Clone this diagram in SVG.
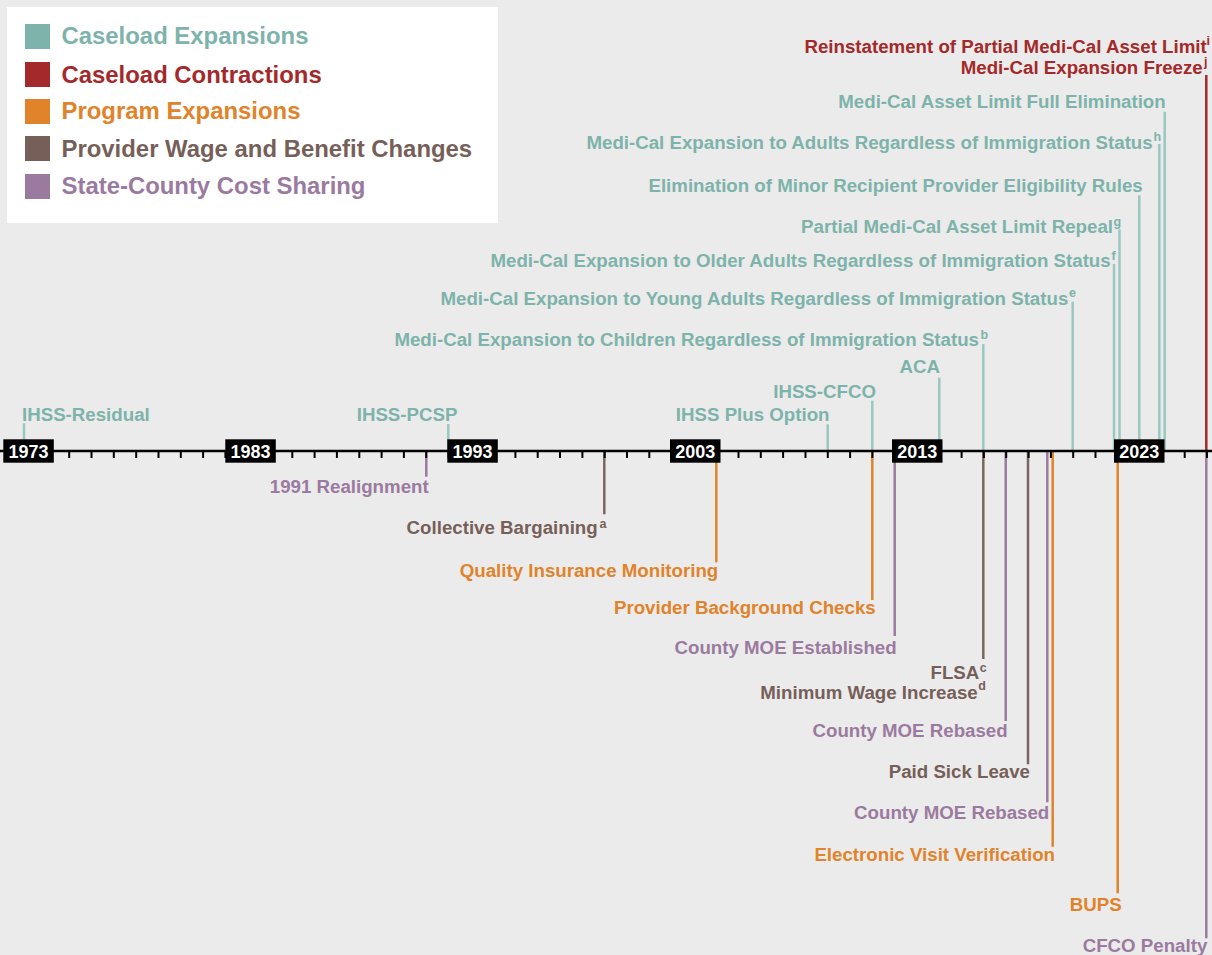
<svg xmlns="http://www.w3.org/2000/svg" width="1212" height="955" viewBox="0 0 1212 955">
<style>
text{font-family:"Liberation Sans",Arial,Helvetica,sans-serif;font-weight:bold}
.lbl{font-size:18.7px}
.sup{font-size:12.5px}
.leg{font-size:23.9px}
.yr{font-size:18px;fill:#fff;text-anchor:middle}
.e{text-anchor:end}
.teal{fill:#7db3aa}.red{fill:#a3292a}.org{fill:#e0832a}.brn{fill:#765f59}.pur{fill:#9b7a9f}
.c line{stroke-width:2.5;fill:none}
.lt{stroke:#9bc7c0}.lr{stroke:#a3292a}.lo{stroke:#e0832a}.lb{stroke:#7a6660}.lp{stroke:#9b7a9f}
.tick{stroke:#000;stroke-width:2}
</style>
<rect x="0" y="0" width="1212" height="955" fill="#ebebeb"/>

<g id="legend">
<rect x="7" y="7" width="491" height="216" fill="#fff"/>
<rect x="25" y="24" width="25" height="25" fill="#7db3aa"/>
<text class="leg teal" x="61.5" y="44.3">Caseload Expansions</text>
<rect x="25" y="62" width="25" height="25" fill="#a3292a"/>
<text class="leg red" x="61.5" y="83.3">Caseload Contractions</text>
<rect x="25" y="99" width="25" height="25" fill="#e0832a"/>
<text class="leg org" x="61.5" y="119">Program Expansions</text>
<rect x="25" y="136" width="25" height="25" fill="#765f59"/>
<text class="leg brn" x="61.5" y="156.7">Provider Wage and Benefit Changes</text>
<rect x="25" y="174" width="25" height="25" fill="#9b7a9f"/>
<text class="leg pur" x="61.5" y="194.3">State-County Cost Sharing</text>
</g>

<g id="connectors" class="c">
<line class="lt" x1="24" y1="423.3" x2="24" y2="451"/>
<line class="lt" x1="448.3" y1="424" x2="448.3" y2="451"/>
<line class="lt" x1="827.7" y1="424.3" x2="827.7" y2="451"/>
<line class="lt" x1="872.3" y1="400.7" x2="872.3" y2="451"/>
<line class="lt" x1="939.3" y1="377.7" x2="939.3" y2="451"/>
<line class="lt" x1="983.3" y1="344" x2="983.3" y2="451"/>
<line class="lt" x1="1072.7" y1="301.7" x2="1072.7" y2="451"/>
<line class="lt" x1="1114" y1="264" x2="1114" y2="451"/>
<line class="lt" x1="1119.5" y1="229.3" x2="1119.5" y2="451"/>
<line class="lt" x1="1139.3" y1="195.3" x2="1139.3" y2="451"/>
<line class="lt" x1="1159.3" y1="144" x2="1159.3" y2="451"/>
<line class="lt" x1="1164.7" y1="111.7" x2="1164.7" y2="451"/>
<line class="lr" x1="1206.3" y1="75" x2="1206.3" y2="451"/>
<line class="lp" x1="426.3" y1="451" x2="426.3" y2="476.7"/>
<line class="lb" x1="604.3" y1="451" x2="604.3" y2="514.3"/>
<line class="lo" x1="716.3" y1="451" x2="716.3" y2="562.3"/>
<line class="lo" x1="872.3" y1="451" x2="872.3" y2="600"/>
<line class="lp" x1="894.7" y1="451" x2="894.7" y2="636"/>
<line class="lb" x1="983.3" y1="451" x2="983.3" y2="659"/>
<line class="lp" x1="1005.7" y1="451" x2="1005.7" y2="721"/>
<line class="lb" x1="1028" y1="451" x2="1028" y2="764.3"/>
<line class="lp" x1="1047.3" y1="451" x2="1047.3" y2="802.3"/>
<line class="lo" x1="1052.7" y1="451" x2="1052.7" y2="846.7"/>
<line class="lo" x1="1117.7" y1="451" x2="1117.7" y2="893.3"/>
<line class="lp" x1="1206.3" y1="451" x2="1206.3" y2="938.3"/>
</g>

<g id="axis">
<line x1="0" y1="451" x2="1212" y2="451" stroke="#000" stroke-width="2.5"/>
<g class="tick">
<line x1="24.6" y1="451" x2="24.6" y2="458"/><line x1="46.9" y1="451" x2="46.9" y2="458"/><line x1="69.2" y1="451" x2="69.2" y2="458"/><line x1="91.5" y1="451" x2="91.5" y2="458"/><line x1="113.8" y1="451" x2="113.8" y2="458"/><line x1="136.2" y1="451" x2="136.2" y2="458"/><line x1="158.5" y1="451" x2="158.5" y2="458"/><line x1="180.8" y1="451" x2="180.8" y2="458"/><line x1="203.1" y1="451" x2="203.1" y2="458"/><line x1="225.4" y1="451" x2="225.4" y2="458"/>
<line x1="247.7" y1="451" x2="247.7" y2="458"/><line x1="270" y1="451" x2="270" y2="458"/><line x1="292.3" y1="451" x2="292.3" y2="458"/><line x1="314.6" y1="451" x2="314.6" y2="458"/><line x1="336.9" y1="451" x2="336.9" y2="458"/><line x1="359.3" y1="451" x2="359.3" y2="458"/><line x1="381.6" y1="451" x2="381.6" y2="458"/><line x1="403.9" y1="451" x2="403.9" y2="458"/><line x1="426.2" y1="451" x2="426.2" y2="458"/><line x1="448.5" y1="451" x2="448.5" y2="458"/>
<line x1="470.8" y1="451" x2="470.8" y2="458"/><line x1="493.1" y1="451" x2="493.1" y2="458"/><line x1="515.4" y1="451" x2="515.4" y2="458"/><line x1="537.7" y1="451" x2="537.7" y2="458"/><line x1="560" y1="451" x2="560" y2="458"/><line x1="582.4" y1="451" x2="582.4" y2="458"/><line x1="604.7" y1="451" x2="604.7" y2="458"/><line x1="627" y1="451" x2="627" y2="458"/><line x1="649.3" y1="451" x2="649.3" y2="458"/><line x1="671.6" y1="451" x2="671.6" y2="458"/>
<line x1="693.9" y1="451" x2="693.9" y2="458"/><line x1="716.2" y1="451" x2="716.2" y2="458"/><line x1="738.5" y1="451" x2="738.5" y2="458"/><line x1="760.8" y1="451" x2="760.8" y2="458"/><line x1="783.1" y1="451" x2="783.1" y2="458"/><line x1="805.5" y1="451" x2="805.5" y2="458"/><line x1="827.8" y1="451" x2="827.8" y2="458"/><line x1="850.1" y1="451" x2="850.1" y2="458"/><line x1="872.4" y1="451" x2="872.4" y2="458"/><line x1="894.7" y1="451" x2="894.7" y2="458"/>
<line x1="917" y1="451" x2="917" y2="458"/><line x1="939.3" y1="451" x2="939.3" y2="458"/><line x1="961.6" y1="451" x2="961.6" y2="458"/><line x1="983.9" y1="451" x2="983.9" y2="458"/><line x1="1006.2" y1="451" x2="1006.2" y2="458"/><line x1="1028.6" y1="451" x2="1028.6" y2="458"/><line x1="1050.9" y1="451" x2="1050.9" y2="458"/><line x1="1073.2" y1="451" x2="1073.2" y2="458"/><line x1="1095.5" y1="451" x2="1095.5" y2="458"/><line x1="1117.8" y1="451" x2="1117.8" y2="458"/>
<line x1="1140.1" y1="451" x2="1140.1" y2="458"/><line x1="1162.4" y1="451" x2="1162.4" y2="458"/><line x1="1184.7" y1="451" x2="1184.7" y2="458"/><line x1="1207" y1="451" x2="1207" y2="458"/>
</g>
</g>

<g id="year-1973"><rect x="3.3" y="439.3" width="50.5" height="23.4" fill="#000"/><text class="yr" x="28.5" y="457.5">1973</text></g>
<g id="year-1983"><rect x="225.3" y="439.3" width="50.5" height="23.4" fill="#000"/><text class="yr" x="250.5" y="457.5">1983</text></g>
<g id="year-1993"><rect x="447.3" y="439.3" width="50.5" height="23.4" fill="#000"/><text class="yr" x="472.5" y="457.5">1993</text></g>
<g id="year-2003"><rect x="670" y="439.3" width="50.5" height="23.4" fill="#000"/><text class="yr" x="695.3" y="457.5">2003</text></g>
<g id="year-2013"><rect x="892" y="439.3" width="50.5" height="23.4" fill="#000"/><text class="yr" x="917.3" y="457.5">2013</text></g>
<g id="year-2023"><rect x="1114" y="439.3" width="50.5" height="23.4" fill="#000"/><text class="yr" x="1139.3" y="457.5">2023</text></g>

<g id="ihss-residual"><text class="lbl teal" x="22" y="421">IHSS-Residual</text></g>
<g id="ihss-pcsp"><text class="lbl teal" x="356.7" y="420.7">IHSS-PCSP</text></g>
<g id="ihss-plus"><text class="lbl teal e" x="829.5" y="420.7">IHSS Plus Option</text></g>
<g id="ihss-cfco"><text class="lbl teal e" x="876" y="398.3">IHSS-CFCO</text></g>
<g id="aca"><text class="lbl teal e" x="940" y="373.3">ACA</text></g>
<g id="medi-cal-children"><text class="lbl teal e" x="979" y="345.7">Medi-Cal Expansion to Children Regardless of Immigration Status</text><text class="sup teal" x="980.5" y="339">b</text></g>
<g id="medi-cal-young"><text class="lbl teal e" x="1068.3" y="305">Medi-Cal Expansion to Young Adults Regardless of Immigration Status</text><text class="sup teal" x="1069" y="297">e</text></g>
<g id="medi-cal-older"><text class="lbl teal e" x="1110.7" y="267.3">Medi-Cal Expansion to Older Adults Regardless of Immigration Status</text><text class="sup teal" x="1111.5" y="260">f</text></g>
<g id="partial-repeal"><text class="lbl teal e" x="1113" y="232.7">Partial Medi-Cal Asset Limit Repeal</text><text class="sup teal" x="1113.5" y="226">g</text></g>
<g id="minor-recipient"><text class="lbl teal e" x="1142.7" y="191.7">Elimination of Minor Recipient Provider Eligibility Rules</text></g>
<g id="medi-cal-adults"><text class="lbl teal e" x="1152.7" y="149.3">Medi-Cal Expansion to Adults Regardless of Immigration Status</text><text class="sup teal" x="1153.5" y="141">h</text></g>
<g id="full-elimination"><text class="lbl teal e" x="1165.7" y="108.3">Medi-Cal Asset Limit Full Elimination</text></g>
<g id="reinstatement"><text class="lbl red e" x="1206.7" y="53">Reinstatement of Partial Medi-Cal Asset Limit</text><text class="sup red" x="1206.5" y="44.5">i</text></g>
<g id="expansion-freeze"><text class="lbl red e" x="1202.7" y="74">Medi-Cal Expansion Freeze</text><text class="sup red" x="1204" y="66">j</text></g>

<g id="realignment"><text class="lbl pur e" x="428.7" y="492.7">1991 Realignment</text></g>
<g id="collective-bargaining"><text class="lbl brn e" x="597.7" y="534">Collective Bargaining</text><text class="sup brn" x="599.5" y="528">a</text></g>
<g id="quality-monitoring"><text class="lbl org e" x="718.3" y="577.3">Quality Insurance Monitoring</text></g>
<g id="background-checks"><text class="lbl org e" x="875.7" y="614">Provider Background Checks</text></g>
<g id="moe-established"><text class="lbl pur e" x="896.7" y="654">County MOE Established</text></g>
<g id="flsa"><text class="lbl brn e" x="979.3" y="679.3">FLSA</text><text class="sup brn" x="979.8" y="671.7">c</text></g>
<g id="minimum-wage"><text class="lbl brn e" x="977.7" y="699">Minimum Wage Increase</text><text class="sup brn" x="978.3" y="690">d</text></g>
<g id="moe-rebased-1"><text class="lbl pur e" x="1007.7" y="737.3">County MOE Rebased</text></g>
<g id="paid-sick-leave"><text class="lbl brn e" x="1030" y="777.7">Paid Sick Leave</text></g>
<g id="moe-rebased-2"><text class="lbl pur e" x="1049.3" y="819.3">County MOE Rebased</text></g>
<g id="evv"><text class="lbl org e" x="1055" y="861">Electronic Visit Verification</text></g>
<g id="bups"><text class="lbl org e" x="1121.7" y="910.7">BUPS</text></g>
<g id="cfco-penalty"><text class="lbl pur e" x="1207.3" y="951.5">CFCO Penalty</text></g>
</svg>
